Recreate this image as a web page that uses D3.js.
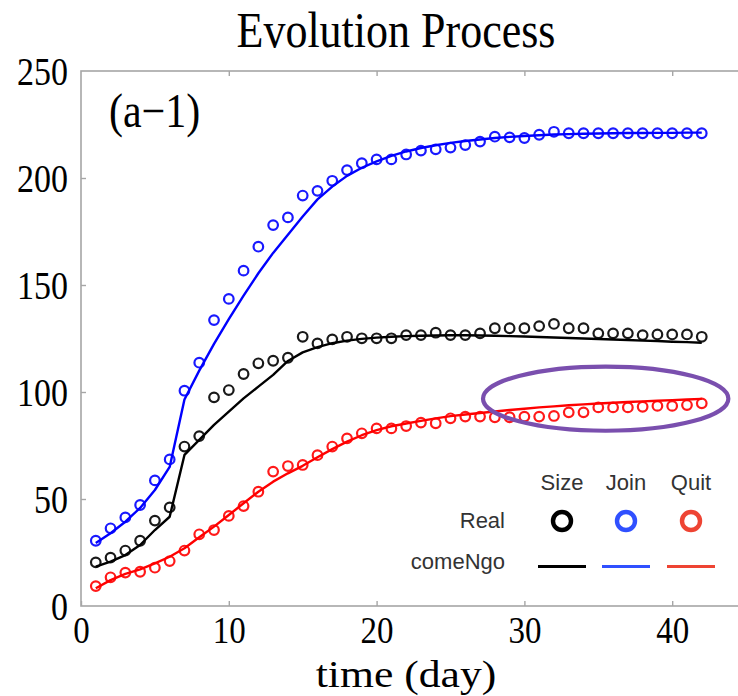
<!DOCTYPE html>
<html>
<head>
<meta charset="utf-8">
<script src="https://cdn.jsdelivr.net/npm/d3@7"></script>
<style>
  html, body { margin: 0; padding: 0; background: #fff; }
  svg { display: block; }
</style>
</head>
<body>
<svg id="chart" width="738" height="696"></svg>
<script>
// Daily group counts: observed ("Real") and fitted comeNgo model
const days = [1,2,3,4,5,6,7,8,9,10,11,12,13,14,15,16,17,18,19,20,21,22,23,24,25,26,27,28,29,30,31,32,33,34,35,36,37,38,39,40,41,42];

const sizeReal = [20.4,22.6,25.9,30.5,39.9,46.1,74.5,79.4,97.5,100.9,108.4,113.4,114.6,116,125.8,122.7,124.6,125.8,125.1,125.1,125.1,126.6,126.6,127.7,126.6,126.6,127.4,129.8,129.8,129.8,130.8,131.8,129.8,129.8,127.4,127.4,127.4,126.6,126.9,126.9,126.9,125.8];
const joinReal = [30.5,36.3,41.4,47.2,58.7,68.5,100.6,113.7,133.6,143.5,156.7,167.9,178,181.6,191.8,194,198.7,203.7,206.9,208.7,208.7,211,212.8,213.4,214.2,215.4,217,219.3,219,218.7,220.2,221.6,220.9,220.9,220.9,220.9,220.9,220.9,220.9,220.9,220.9,220.9];
const quitReal = [9.3,13.4,15.6,16,17.9,21,25.9,33.5,35.5,42.1,46.7,53.4,62.8,65.4,65.9,70.5,74.5,78.3,80.7,83,83,84.1,85.7,85.4,87.7,88.5,88.5,88.2,88.2,88.5,88.5,88.8,90.5,90.5,92.8,92.8,92.8,93.1,93.5,93.5,93.9,94.7];

const sizeModel = [18.4,20.7,23.8,28.5,35.5,41.7,70.6,77.6,84.6,90.8,97,102.5,108,114.5,118.5,121,122.8,124,124.8,125.4,125.8,126.1,126.3,126.4,126.5,126.5,126.4,126.3,126.1,125.9,125.7,125.5,125.2,125,124.8,124.5,124.3,124,123.8,123.5,123.3,123];
const joinModel = [29.4,34,39.4,45.8,54.2,65,96.5,110,122.5,134,145,155.5,165,173.5,182,190,196,201,204.8,207.8,210.3,212.4,214,215.3,216.4,217.3,218,218.7,219.2,219.6,220,220.3,220.5,220.7,220.8,220.9,221,221,221.1,221.1,221.2,221.2];
const quitModel = [8.3,12.1,15,17.1,19.9,23,27,32.1,37.1,42.5,48,53.4,58.1,62,65.5,69.5,73.3,76.8,79.8,82.2,84,85.3,86.5,87.7,88.7,89.5,90.2,90.9,91.6,92.2,92.8,93.3,93.8,94.2,94.6,95,95.3,95.6,95.9,96.2,96.5,96.8];

const xTicks = [0,10,20,30,40];
const yTicks = [0,50,100,150,200,250];

const legendSeries = ["Size","Join","Quit"];
const legendRows = ["Real","comeNgo"];

// Highlighted late-stage region of the Quit series (centre day/value, half-widths)
const highlight = { day: 35.5, value: 96.9, rxDays: 8.3, ryValue: 15 };

const seriesColor = ["#000000","#0000ff","#ff0000"];
const legendColor = ["#000000","#3050ff","#ee4433"];

const svg = d3.select("#chart");
const W = 738, H = 696;
const plotLeft = 81, plotTop = 71, plotBottom = 606, pxPerDay = 14.78;
const x = d3.scaleLinear().domain([0,45]).range([plotLeft, plotLeft + 45 * pxPerDay]);
const y = d3.scaleLinear().domain([0,250]).range([plotBottom, plotTop]);

const serif = "'Liberation Serif','Times New Roman',Times,serif";
const sans = "'Liberation Sans',Arial,Helvetica,sans-serif";
const stretch = 1.15;   // text in this figure is drawn slightly tall

function scaledText(g, str, tx, ty, size, anchor, family, kx, ky) {
  return g.append("text")
    .attr("transform", `translate(${tx},${ty}) scale(${kx},${ky})`)
    .attr("text-anchor", anchor)
    .attr("font-family", family)
    .attr("font-size", size)
    .attr("fill", "#000")
    .text(str);
}

// plot frame
const axisColor = "#a6a6a6";
svg.append("rect")
  .attr("x", x(0)).attr("y", y(250))
  .attr("width", x(45) - x(0)).attr("height", y(0) - y(250))
  .attr("fill", "none").attr("stroke", axisColor).attr("stroke-width", 1.6);

// axes with inward ticks
function styleAxis(g) {
  g.select(".domain").remove();
  g.selectAll(".tick line").attr("stroke", axisColor).attr("stroke-width", 1.4);
}
const xAxis = svg.append("g").attr("transform", `translate(0,${plotBottom})`)
  .call(d3.axisBottom(x).tickValues(xTicks).tickSizeInner(-5).tickSizeOuter(0).tickPadding(0));
styleAxis(xAxis);
xAxis.selectAll(".tick text")
  .attr("font-family", serif).attr("font-size", 33).attr("fill", "#000")
  .attr("dy", 0).attr("y", 37.5 / stretch)
  .attr("transform", `scale(1,${stretch})`);

svg.append("g").attr("transform", `translate(0,${plotTop})`)
  .call(d3.axisTop(x).tickValues(xTicks.slice(1)).tickSizeInner(-5).tickSizeOuter(0).tickFormat(""))
  .call(styleAxis);

const yAxis = svg.append("g").attr("transform", `translate(${plotLeft},0)`)
  .call(d3.axisLeft(y).tickValues(yTicks).tickSizeInner(-5).tickSizeOuter(0).tickPadding(13));
styleAxis(yAxis);
yAxis.selectAll(".tick line").filter(d => d === 0 || d === 250).remove();
yAxis.selectAll(".tick text")
  .attr("font-family", serif).attr("font-size", 34).attr("fill", "#000")
  .attr("dy", 0).attr("y", 13 / stretch)
  .attr("transform", `scale(1,${stretch})`);

// titles and panel tag
scaledText(svg, "Evolution Process", 396, 46.5, 44, "middle", serif, 1, stretch);
scaledText(svg, "time (day)", 406, 686.5, 39, "middle", serif, 1.12, 1);
scaledText(svg, "(a\u22121)", 109, 127, 42, "start", serif, 1, stretch);

// clip marks to plot area
svg.append("clipPath").attr("id", "plotClip")
  .append("rect").attr("x", x(0)).attr("y", y(250)).attr("width", W - x(0)).attr("height", y(0) - y(250));
const plot = svg.append("g").attr("clip-path", "url(#plotClip)");

const real = [sizeReal, joinReal, quitReal];
const model = [sizeModel, joinModel, quitModel];

const line = d3.line().x((d, i) => x(days[i])).y(d => y(d));

model.forEach((vals, k) => {
  plot.append("path").datum(vals)
    .attr("d", line)
    .attr("fill", "none")
    .attr("stroke", seriesColor[k])
    .attr("stroke-width", 2.4)
    .attr("stroke-linejoin", "round");
});

real.forEach((vals, k) => {
  plot.append("g").selectAll("circle").data(vals).join("circle")
    .attr("cx", (d, i) => x(days[i]))
    .attr("cy", d => y(d))
    .attr("r", 4.8)
    .attr("fill", "none")
    .attr("stroke", seriesColor[k])
    .attr("stroke-width", 2.2)
    .attr("opacity", 0.9);
});

// highlight ellipse
svg.append("ellipse")
  .attr("cx", x(highlight.day)).attr("cy", y(highlight.value))
  .attr("rx", x(highlight.rxDays) - x(0)).attr("ry", y(0) - y(highlight.ryValue))
  .attr("fill", "none").attr("stroke", "#7a4fae").attr("stroke-width", 4.2);

// legend table
const legend = svg.append("g");
const colX = [562, 626, 691];
legendSeries.forEach((s, k) => {
  legend.append("text").attr("x", colX[k]).attr("y", 490)
    .attr("text-anchor", "middle").attr("font-family", sans).attr("font-size", 22)
    .attr("fill", "#333").text(s);
  legend.append("circle").attr("cx", colX[k]).attr("cy", 521).attr("r", 9)
    .attr("fill", "none").attr("stroke", legendColor[k]).attr("stroke-width", 4.4);
  legend.append("line").attr("x1", colX[k] - 24).attr("x2", colX[k] + 24)
    .attr("y1", 566.5).attr("y2", 566.5)
    .attr("stroke", legendColor[k]).attr("stroke-width", 3.2);
});
const rowY = [528, 569];
legendRows.forEach((r, j) => {
  legend.append("text").attr("x", 505).attr("y", rowY[j])
    .attr("text-anchor", "end").attr("font-family", sans).attr("font-size", 22)
    .attr("fill", "#333").text(r);
});
</script>
</body>
</html>
